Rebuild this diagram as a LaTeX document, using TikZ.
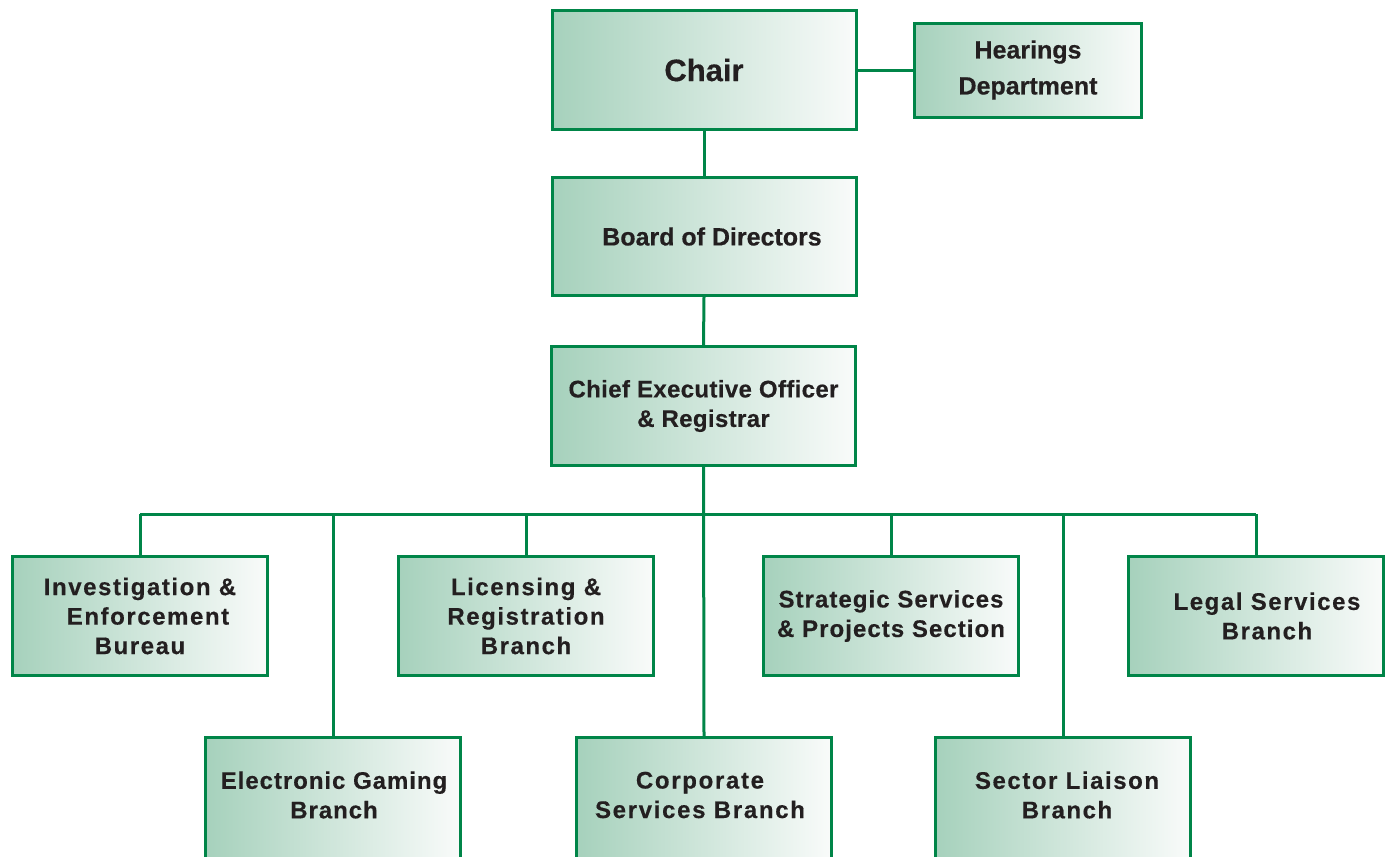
\documentclass[tikz,border=0pt]{standalone}
\usepackage{fontspec}
\setmainfont{Liberation Sans}
\definecolor{ln}{RGB}{0,133,72}
\definecolor{gl}{RGB}{166,209,188}
\definecolor{gr}{RGB}{249,251,250}
\definecolor{tx}{RGB}{35,31,32}
\begin{document}
\begin{tikzpicture}[x=1pt,y=-1pt,
  frame/.style={draw=ln, line width=3pt, left color=gl, right color=gr, inner sep=0pt},
  txt/.style={inner sep=0pt, align=center, text=tx,
    font=\bfseries\fontsize{24}{29.5}\selectfont\addfontfeature{LetterSpace=6.5,FakeBold=0.4}},
  box/.style={frame, txt},
  ls/.style={font=\bfseries\fontsize{24}{29.5}\selectfont\addfontfeature{LetterSpace=#1,FakeBold=0.4}},
  big/.style={minimum width=304pt, minimum height=119pt},
  unit/.style={minimum width=255pt, minimum height=119pt},
  cond/.style={font=\bfseries\fontsize{25}{36}\selectfont\addfontfeature{FakeBold=0.4}},
  conn/.style={draw=ln, line width=3pt}]
\useasboundingbox (0,0) rectangle (1390,857);
\clip (0,0) rectangle (1390,857);
% top column
\node[box, big, font=\bfseries\fontsize{31}{36}\selectfont\addfontfeature{FakeBold=0.4}] (chair) at (704,70) {Chair};
\node[box, cond, minimum width=227pt, minimum height=94pt] (hear) at (1028,70) {Hearings\\Department};
\node[box, big, cond, minimum height=118pt] (board) at (704,236.5) {\hspace*{16pt}Board of Directors};
\node[box, big, ls=1.5] (ceo) at (703.5,406) {Chief Executive Officer\\\& Registrar};
% first row
\node[box, unit] (inv) at (140,616) {Investigation \&\\\hspace*{16pt}Enforcement\\Bureau};
\node[box, unit] (lic) at (526,616) {Licensing \&\\Registration\\Branch};
\node[box, unit, ls=4.4] (strat) at (891,616) {Strategic Services\\\& Projects Section};
\node[box, unit] (legal) at (1256,616) {\hspace*{22pt}Legal Services\\\hspace*{22pt}Branch};
% second row (cut off by the lower edge)
\node[frame, unit, minimum height=127pt] (elec) at (333,801) {};
\node[frame, unit, minimum height=127pt] (corp) at (704,801) {};
\node[frame, unit, minimum height=127pt] (sect) at (1063,801) {};
\node[txt, ls=4] (elect) at (334,795) {Electronic Gaming\\Branch};
\node[txt, ls=7] (corpt) at (700,795) {Corporate\\Services Branch};
\node[txt] (sectt) at (1067,795) {Sector Liaison\\Branch};
% connectors
\coordinate (bus) at (704,514);
\draw[conn] (chair.east) -- (hear.west);
\draw[conn] (chair.south) -- (board.north);
\draw[conn] (board.south) -- (ceo.north);
\draw[conn] (ceo.south) -- (corp.north);
\draw[conn] (inv.north |- bus) -- (legal.north |- bus);
\draw[conn] (inv.north |- bus) -- (inv.north);
\draw[conn] (elec.north |- bus) -- (elec.north);
\draw[conn] (lic.north |- bus) -- (lic.north);
\draw[conn] (strat.north |- bus) -- (strat.north);
\draw[conn] (sect.north |- bus) -- (sect.north);
\draw[conn] (legal.north |- bus) -- (legal.north);
\end{tikzpicture}
\end{document}
